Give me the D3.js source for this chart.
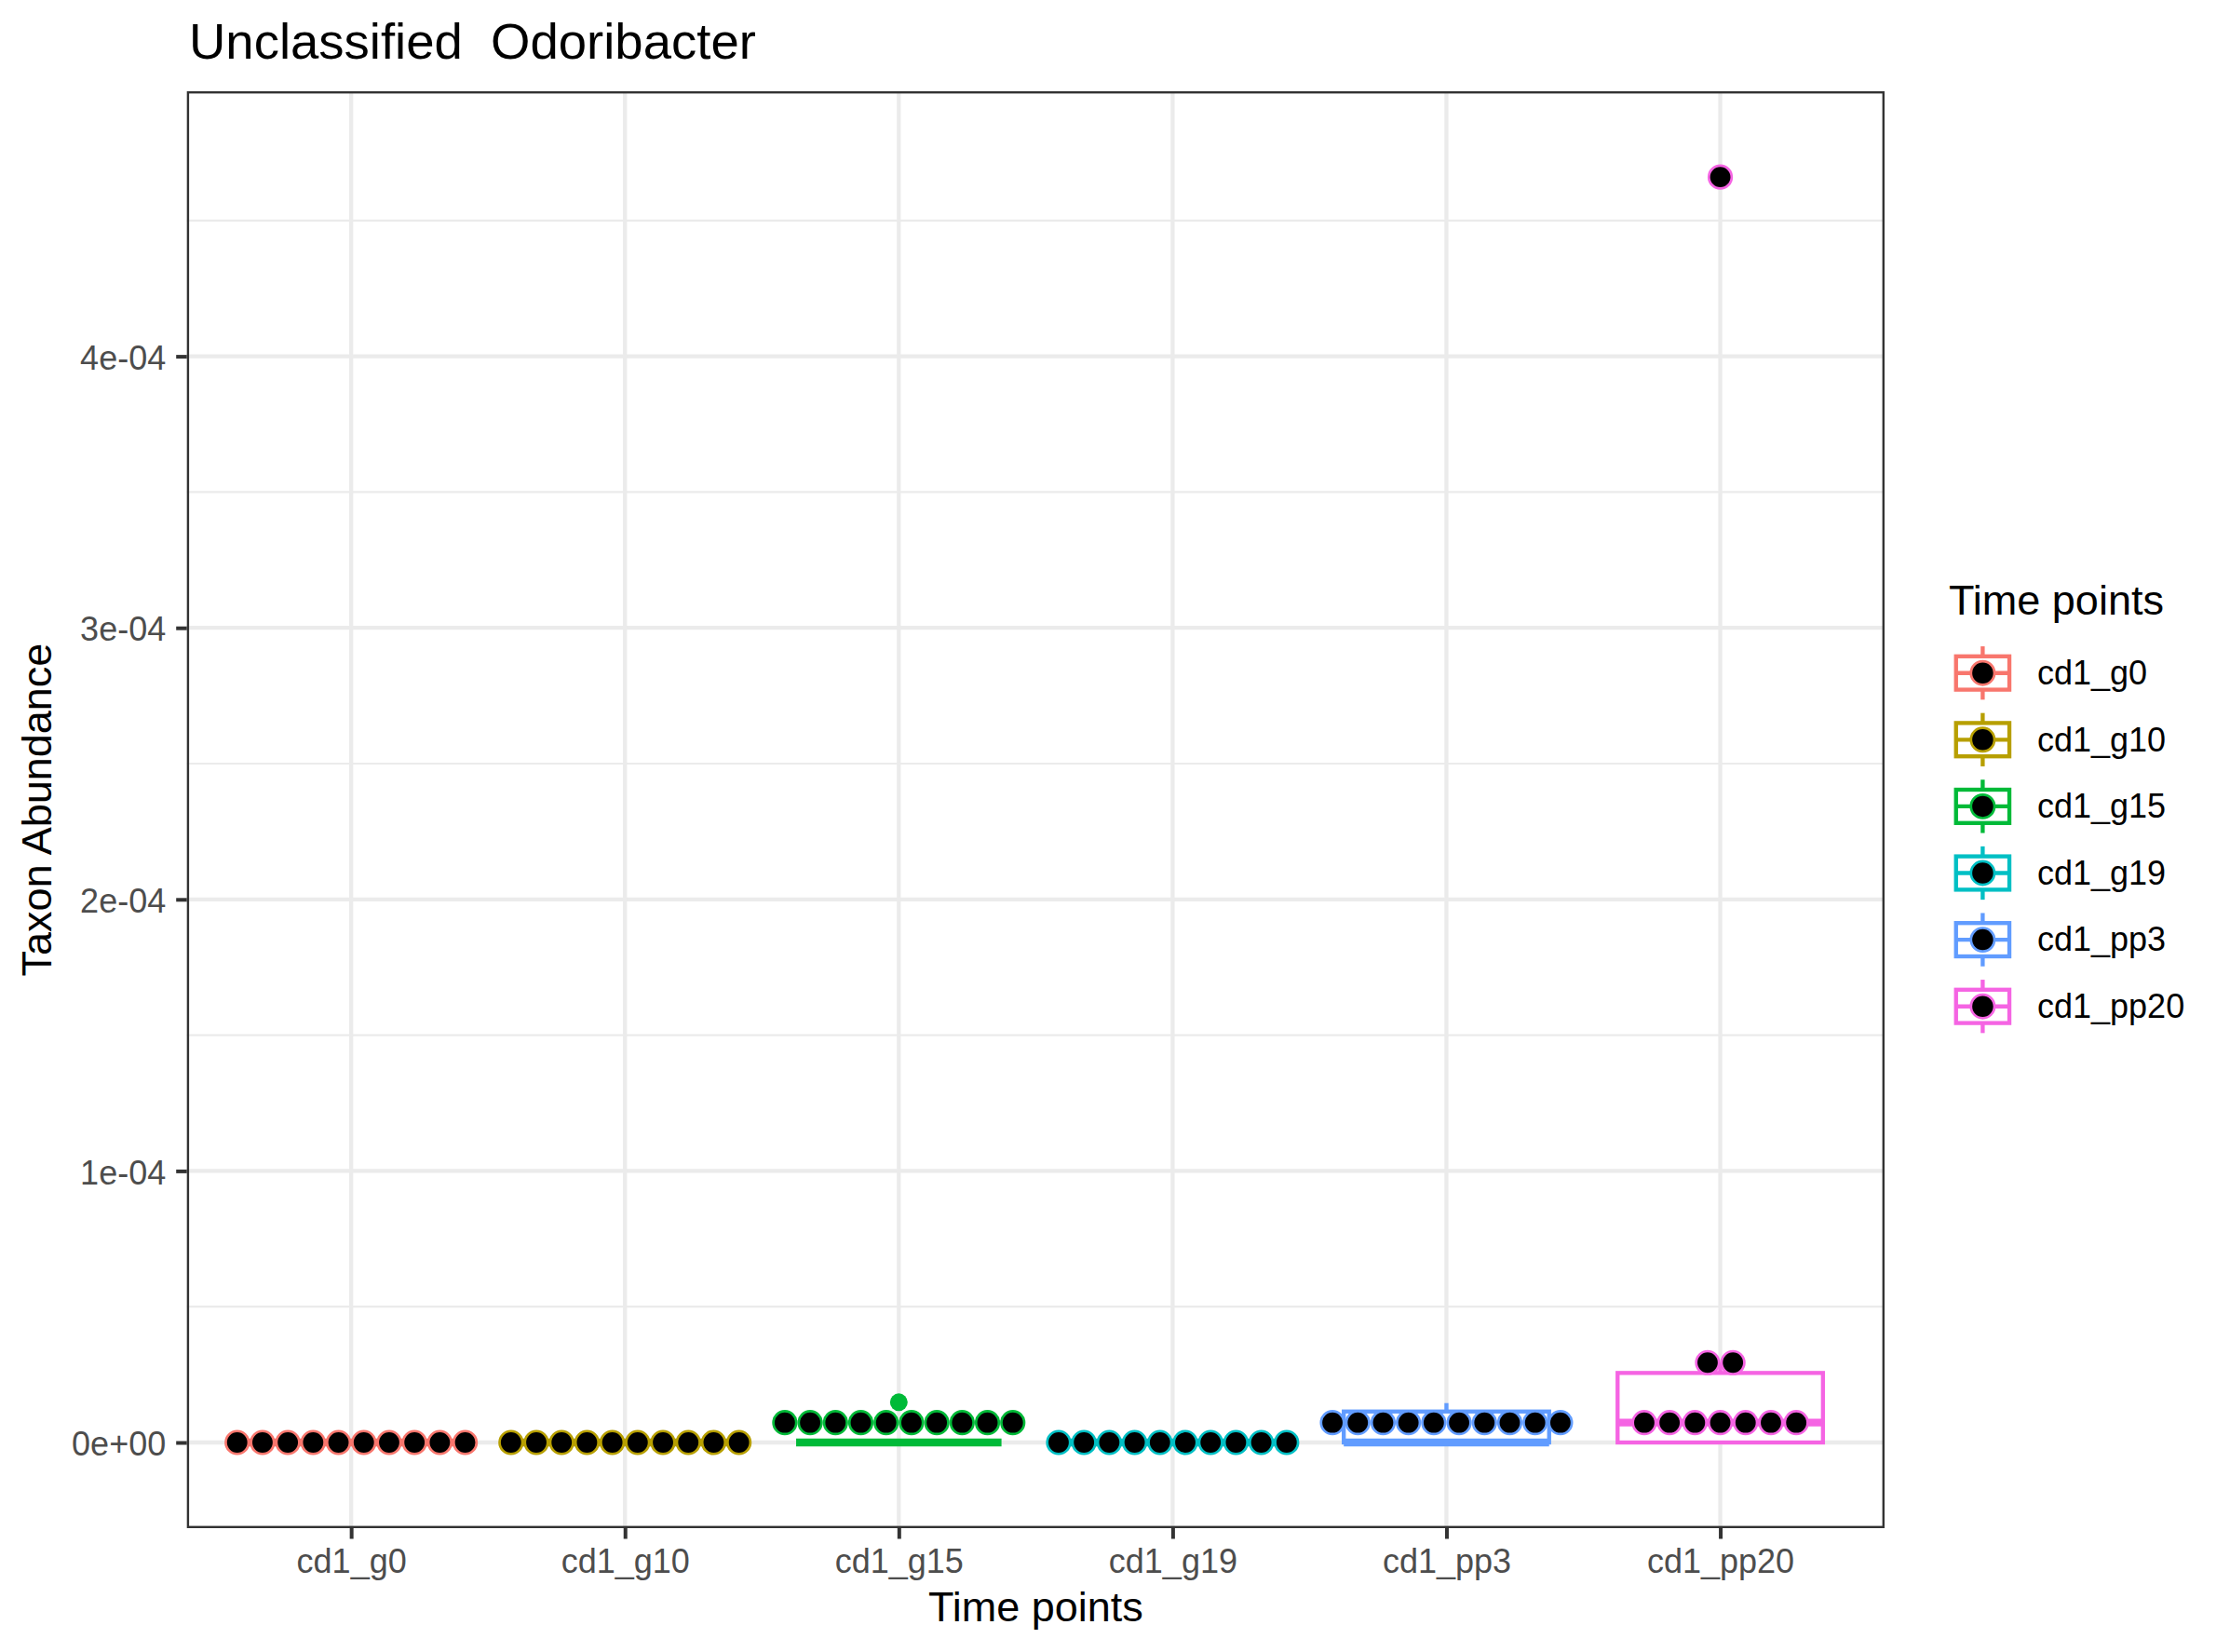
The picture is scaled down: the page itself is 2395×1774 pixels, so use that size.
<!DOCTYPE html>
<html>
<head>
<meta charset="utf-8">
<script src="https://cdn.jsdelivr.net/npm/d3@7"></script>
<style>
  html, body { margin: 0; padding: 0; background: #ffffff; }
  svg { display: block; }
  text { font-family: "Liberation Sans", Arial, Helvetica, sans-serif; }
</style>
</head>
<body>
<script>
// ---------------- data ----------------
const categories = ["cd1_g0", "cd1_g10", "cd1_g15", "cd1_g19", "cd1_pp3", "cd1_pp20"];
const colors = ["#F8766D", "#B79F00", "#00BA38", "#00BFC4", "#619CFF", "#F564E3"];

const yTickValues = [0, 1e-4, 2e-4, 3e-4, 4e-4];
const yTickLabels = ["0e+00", "1e-04", "2e-04", "3e-04", "4e-04"];
const yMinorValues = [0.5e-4, 1.5e-4, 2.5e-4, 3.5e-4, 4.5e-4];

// boxplot statistics per time point
const boxLower  = [0, 0, 0, 0, 0, 0];
const boxQ1     = [0, 0, 0, 0, 0, 0];
const boxMedian = [0, 0, 0, 0, 0, 0.0000073];
const boxQ3     = [0, 0, 0, 0, 0.0000114, 0.0000256];
const boxUpper  = [0, 0, 0, 0, 0.0000145, 0.0000294];
const boxOutliers = [[], [], [0.0000148], [], [], [0.000466]];

// dotplot bins (bin centre value, number of stacked dots)
const dotBinValues = [[0], [0], [0.0000073], [0], [0.0000073], [0.0000073, 0.0000294, 0.000466]];
const dotBinCounts = [[10], [10], [10], [10], [10], [7, 2, 1]];
const dotBinwidth = 0.00001555;
const dotSize = 0.6;

// ---------------- layout ----------------
const W = 2395, H = 1774;
const panel = { left: 200.7, right: 2024, top: 98, bottom: 1641 };
const yDomain = [-0.00003155, 0.0004976];

const svg = d3.select("body").append("svg").attr("width", W).attr("height", H);
svg.append("rect").attr("width", W).attr("height", H).attr("fill", "#ffffff");

const x = d3.scalePoint().domain(categories).range([panel.left, panel.right]).padding(0.6);
const y = d3.scaleLinear().domain(yDomain).range([panel.bottom, panel.top]);

const gridColor = "#EBEBEB";
const majorW = 4.3, minorW = 2.2;

// grid
const grid = svg.append("g");
grid.selectAll("line.ymin").data(yMinorValues).enter().append("line")
  .attr("x1", panel.left).attr("x2", panel.right)
  .attr("y1", d => y(d)).attr("y2", d => y(d))
  .attr("stroke", gridColor).attr("stroke-width", minorW);
grid.selectAll("line.ymaj").data(yTickValues).enter().append("line")
  .attr("x1", panel.left).attr("x2", panel.right)
  .attr("y1", d => y(d)).attr("y2", d => y(d))
  .attr("stroke", gridColor).attr("stroke-width", majorW);
grid.selectAll("line.xmaj").data(categories).enter().append("line")
  .attr("x1", d => x(d)).attr("x2", d => x(d))
  .attr("y1", panel.top).attr("y2", panel.bottom)
  .attr("stroke", gridColor).attr("stroke-width", majorW);

// boxplots
const boxW = x.step() * 0.75;
const lw = 4.35;
const boxes = svg.append("g");
categories.forEach((c, i) => {
  const cx = x(c), col = colors[i];
  const g = boxes.append("g");
  g.append("line").attr("x1", cx).attr("x2", cx)
    .attr("y1", y(boxQ3[i])).attr("y2", y(boxUpper[i]))
    .attr("stroke", col).attr("stroke-width", lw);
  g.append("line").attr("x1", cx).attr("x2", cx)
    .attr("y1", y(boxQ1[i])).attr("y2", y(boxLower[i]))
    .attr("stroke", col).attr("stroke-width", lw);
  g.append("rect").attr("x", cx - boxW / 2).attr("width", boxW)
    .attr("y", y(boxQ3[i])).attr("height", Math.max(0, y(boxQ1[i]) - y(boxQ3[i])))
    .attr("fill", "#ffffff").attr("stroke", col).attr("stroke-width", lw);
  g.append("line").attr("x1", cx - boxW / 2).attr("x2", cx + boxW / 2)
    .attr("y1", y(boxMedian[i])).attr("y2", y(boxMedian[i]))
    .attr("stroke", col).attr("stroke-width", lw * 1.9);
  g.selectAll("circle").data(boxOutliers[i]).enter().append("circle")
    .attr("cx", cx).attr("cy", d => y(d)).attr("r", 9.5)
    .attr("fill", col);
});

// dotplot
const dotDiam = (y(0) - y(dotBinwidth)) * dotSize;
const dotStroke = 2.7;
const dots = svg.append("g");
categories.forEach((c, i) => {
  const cx = x(c), col = colors[i];
  dotBinValues[i].forEach((v, b) => {
    const n = dotBinCounts[i][b];
    const idx = d3.range(n);
    dots.selectAll(null).data(idx).enter().append("circle")
      .attr("cx", j => cx + (j - (n - 1) / 2) * dotDiam)
      .attr("cy", y(v))
      .attr("r", dotDiam / 2 - dotStroke / 2)
      .attr("fill", "#000000").attr("stroke", col).attr("stroke-width", dotStroke);
  });
});

// panel border
svg.append("rect")
  .attr("x", panel.left + 1.2).attr("y", panel.top + 1.2)
  .attr("width", panel.right - panel.left - 2.4).attr("height", panel.bottom - panel.top - 2.4)
  .attr("fill", "none").attr("stroke", "#333333").attr("stroke-width", 2.4);

// axes
const tickLabel = d3.scaleOrdinal().domain(yTickValues).range(yTickLabels);
const yAxis = svg.append("g").attr("transform", `translate(${panel.left},0)`)
  .call(d3.axisLeft(y).tickValues(yTickValues).tickFormat(d => tickLabel(d))
    .tickSizeInner(11.5).tickSizeOuter(0).tickPadding(11));
yAxis.select(".domain").remove();
yAxis.selectAll(".tick line").attr("stroke", "#333333").attr("stroke-width", 4);
yAxis.selectAll(".tick text").attr("fill", "#4D4D4D").attr("font-size", 36)
  .attr("font-family", "'Liberation Sans', Arial, sans-serif").attr("dy", "0.38em");

const xAxis = svg.append("g").attr("transform", `translate(0,${panel.bottom})`)
  .call(d3.axisBottom(x).tickSizeInner(11.5).tickSizeOuter(0).tickPadding(11));
xAxis.select(".domain").remove();
xAxis.selectAll(".tick line").attr("stroke", "#333333").attr("stroke-width", 4);
xAxis.selectAll(".tick text").attr("fill", "#4D4D4D").attr("font-size", 36)
  .attr("font-family", "'Liberation Sans', Arial, sans-serif");

// titles
svg.append("text").attr("x", 203).attr("y", 63.3)
  .attr("font-size", 54.5).attr("fill", "#000000")
  .style("white-space", "pre")
  .text("Unclassified  Odoribacter");
svg.append("text").attr("x", (panel.left + panel.right) / 2).attr("y", 1740.7)
  .attr("text-anchor", "middle").attr("font-size", 45).attr("fill", "#000000")
  .text("Time points");
svg.append("text")
  .attr("transform", `translate(55,${(panel.top + panel.bottom) / 2}) rotate(-90)`)
  .attr("text-anchor", "middle").attr("font-size", 45).attr("fill", "#000000")
  .text("Taxon Abundance");

// legend
const leg = svg.append("g");
const keyLeft = 2093.6, keySize = 71.6, firstKeyCy = 722.7;
leg.append("text").attr("x", 2093).attr("y", 660).attr("font-size", 45).attr("fill", "#000000")
  .text("Time points");
categories.forEach((c, i) => {
  const cy = firstKeyCy + i * keySize;
  const cx = keyLeft + keySize / 2, col = colors[i];
  const g = leg.append("g");
  g.append("line").attr("x1", cx).attr("x2", cx).attr("y1", cy - 0.4 * keySize).attr("y2", cy - 0.25 * keySize)
    .attr("stroke", col).attr("stroke-width", lw);
  g.append("line").attr("x1", cx).attr("x2", cx).attr("y1", cy + 0.25 * keySize).attr("y2", cy + 0.4 * keySize)
    .attr("stroke", col).attr("stroke-width", lw);
  g.append("rect").attr("x", keyLeft + 0.1 * keySize).attr("width", 0.8 * keySize)
    .attr("y", cy - 0.25 * keySize).attr("height", 0.5 * keySize)
    .attr("fill", "#ffffff").attr("stroke", col).attr("stroke-width", lw);
  g.append("line").attr("x1", keyLeft + 0.1 * keySize).attr("x2", keyLeft + 0.9 * keySize)
    .attr("y1", cy).attr("y2", cy).attr("stroke", col).attr("stroke-width", lw);
  g.append("circle").attr("cx", cx).attr("cy", cy).attr("r", 12.6)
    .attr("fill", "#000000").attr("stroke", col).attr("stroke-width", dotStroke);
  g.append("text").attr("x", 2188).attr("y", cy + 12.3).attr("font-size", 36).attr("fill", "#000000")
    .text(c);
});
</script>
</body>
</html>
